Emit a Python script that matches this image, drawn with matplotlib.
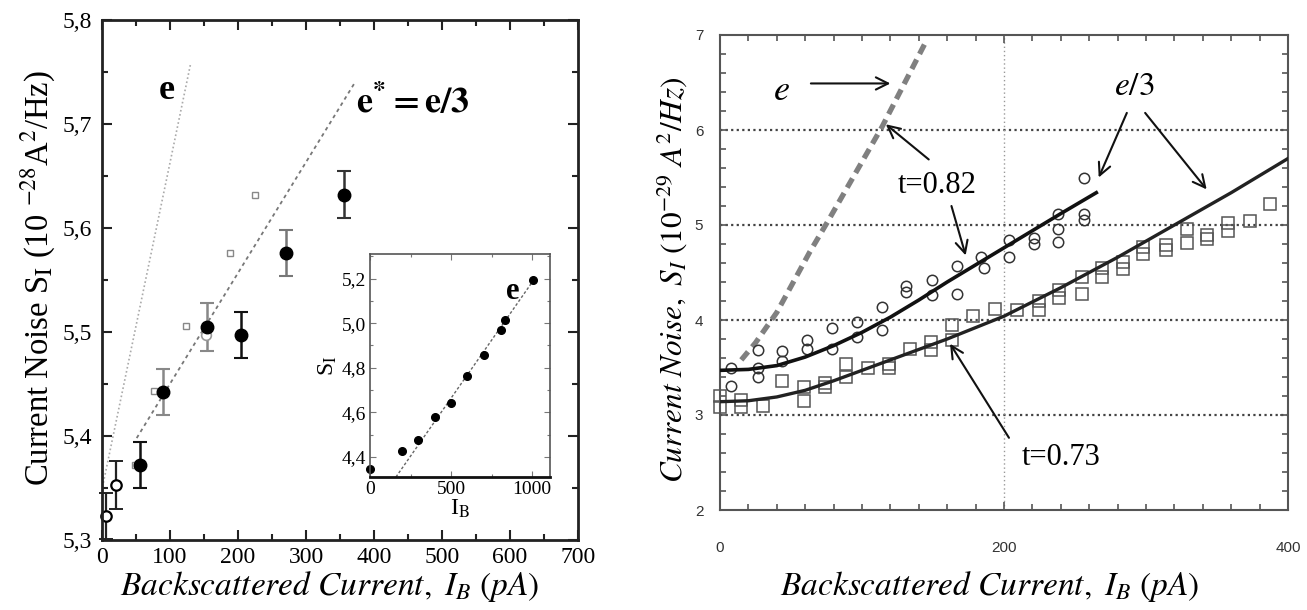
import matplotlib
matplotlib.use('Agg')
import matplotlib.pyplot as plt
from matplotlib.ticker import MultipleLocator, FuncFormatter, FixedLocator

plt.rcParams['font.family'] = ['Liberation Serif', 'DejaVu Serif']
plt.rcParams['mathtext.fontset'] = 'stix'

# ---------------- left panel data ----------------
filled_x = [56, 90, 155, 204, 270, 356]
filled_y = [5.372, 5.442, 5.505, 5.497, 5.576, 5.632]
filled_err = [0.022, 0.022, 0.023, 0.022, 0.0225, 0.0227]
filled_err_col = ['#111111', '#888888', '#888888', '#111111', '#777777', '#333333']
open_x = [6, 21]
open_y = [5.323, 5.353]
open_err = [0.022, 0.023]
sq_x = [49, 77, 123, 188, 225]
sq_y = [5.372, 5.443, 5.506, 5.576, 5.632]
gray_circ_x = [153]
gray_circ_y = [5.497]
e_line_x = [2, 130]
e_line_y = [5.355, 5.757]
e3_line_x = [51, 372]
e3_line_y = [5.398, 5.740]

# inset
inset_x = [0, 196, 298, 403, 500, 601, 704, 807, 835, 1006]
inset_y = [4.344, 4.426, 4.476, 4.579, 4.643, 4.764, 4.856, 4.969, 5.016, 5.193]
inset_line_x = [160, 1006]
inset_line_y = [4.31, 5.19]

# ---------------- right panel data ----------------
c82_x = [8, 8, 26.5, 26.5, 26.5, 43.6, 43.6, 61, 61, 78.8, 78.8, 96.8, 96.8,
         114, 114, 131, 131, 149.6, 149.6, 167, 167, 184, 186, 203.5, 203.5,
         221, 221, 238, 238, 238, 256, 256, 256]
c82_y = [3.50, 3.31, 3.68, 3.50, 3.40, 3.67, 3.57, 3.79, 3.70, 3.92, 3.70,
         3.98, 3.82, 4.14, 3.90, 4.36, 4.29, 4.42, 4.26, 4.57, 4.27, 4.66,
         4.55, 4.84, 4.66, 4.86, 4.80, 5.12, 4.96, 4.82, 5.50, 5.12, 5.05]
s73_x = [0, 0, 14.8, 14.8, 30, 44, 59.3, 59.3, 74, 74, 88.6, 88.6, 104,
         119, 119, 133.6, 148.4, 148.4, 163.7, 163.7, 178, 194, 209,
         224.6, 224.6, 238.6, 238.6, 255, 255, 269, 269, 284, 284, 298, 298,
         314, 314, 328.7, 328.7, 343, 343, 358, 358, 373, 387.6]
s73_y = [3.20, 3.08, 3.16, 3.08, 3.10, 3.36, 3.29, 3.15, 3.34, 3.29, 3.54,
         3.40, 3.50, 3.54, 3.49, 3.70, 3.77, 3.68, 3.95, 3.79, 4.04, 4.12,
         4.11, 4.20, 4.11, 4.32, 4.23, 4.45, 4.27, 4.55, 4.45, 4.61, 4.54,
         4.77, 4.70, 4.79, 4.74, 4.96, 4.81, 4.89, 4.85, 5.02, 4.94, 5.04, 5.22]
fit82_x = [0, 20, 40, 60, 80, 100, 120, 140, 160, 180, 200, 220, 240, 265]
fit82_y = [3.47, 3.48, 3.52, 3.61, 3.73, 3.87, 4.03, 4.21, 4.40, 4.58, 4.76, 4.94, 5.12, 5.34]
fit73_x = [0, 20, 40, 60, 80, 100, 120, 140, 160, 180, 200, 240, 280, 320, 360, 400]
fit73_y = [3.14, 3.15, 3.19, 3.26, 3.36, 3.47, 3.58, 3.69, 3.80, 3.92, 4.04, 4.34, 4.66, 5.00, 5.34, 5.70]
eline_x = [15, 25, 40, 63, 76, 114, 145]
eline_y = [3.58, 3.76, 4.08, 4.71, 5.04, 6.03, 6.93]

W, H = 1307, 610
fig = plt.figure(figsize=(W / 100, H / 100), dpi=100)


def rect(x0, y0, x1, y1):
    return [x0 / W, 1 - y1 / H, (x1 - x0) / W, (y1 - y0) / H]


comma = FuncFormatter(lambda v, p: f'{v:.1f}'.replace('.', ','))

# ================= LEFT PANEL =================
ax = fig.add_axes(rect(102, 20, 578, 540))
ax.set_xlim(0, 700)
ax.set_ylim(5.3, 5.8)
for s in ax.spines.values():
    s.set_linewidth(2.0)
    s.set_color('#222222')
ax.xaxis.set_major_locator(MultipleLocator(100))
ax.xaxis.set_minor_locator(MultipleLocator(50))
ax.yaxis.set_major_locator(MultipleLocator(0.1))
ax.yaxis.set_minor_locator(MultipleLocator(0.05))
ax.yaxis.set_major_formatter(comma)
ax.tick_params(which='both', direction='in', top=True, right=True, width=1.5, color='#222222')
ax.tick_params(which='major', length=7, labelsize=17, pad=7)
ax.tick_params(axis='x', which='major', pad=5)
ax.tick_params(which='minor', length=4)

ax.plot(e_line_x, e_line_y, linestyle=(0, (1, 1.5)), color='#aaaaaa', lw=1.2)
ax.plot(e3_line_x, e3_line_y, linestyle=(0, (2, 2)), color='#777777', lw=1.3)

for x, y, e, c in zip(filled_x, filled_y, filled_err, filled_err_col):
    ax.errorbar([x], [y], yerr=[e], fmt='none', ecolor=c, elinewidth=1.8, capsize=5, capthick=1.5)
for x, y, e in zip(open_x, open_y, open_err):
    ax.errorbar([x], [y], yerr=[e], fmt='none', ecolor='#222222', elinewidth=1.6, capsize=5, capthick=1.4,
                clip_on=False)
ax.plot(sq_x, sq_y, 's', mfc='white', mec='#888888', ms=5, mew=1.0)
ax.plot(gray_circ_x, gray_circ_y, 'o', mfc='white', mec='#999999', ms=7, mew=1.2)
ax.plot(filled_x, filled_y, 'o', color='black', ms=9)
ax.plot(open_x, open_y, 'o', mfc='white', mec='black', ms=7.5, mew=1.6, clip_on=False)

ax.text(95, 5.732, 'e', fontsize=26, fontweight='bold', ha='center', va='center')
ax.text(373, 5.72, r'$\mathbf{e^{*} = e/3}$', fontsize=26, ha='left', va='center')

fig.text(330 / W, 1 - 586 / H, r'$\it{Backscattered\ Current,\ I_{B}\ (pA)}$', fontsize=24,
         ha='center', va='center')
fig.text(38 / W, 1 - 278 / H, r'Current Noise S$_{\mathrm{I}}$ (10 $^{-28}$A$^{2}$/Hz)', fontsize=23.5,
         rotation=90, ha='center', va='center')

# ---- inset ----
ins = fig.add_axes(rect(370, 254, 550, 477))
ins.set_xlim(0, 1110)
ins.set_ylim(4.31, 5.31)
for s in ins.spines.values():
    s.set_linewidth(1.2)
    s.set_color('#555555')
ins.spines['bottom'].set_linewidth(2.0)
ins.spines['bottom'].set_color('#111111')
ins.xaxis.set_major_locator(FixedLocator([0, 500, 1000]))
ins.xaxis.set_minor_locator(MultipleLocator(250))
ins.yaxis.set_major_locator(MultipleLocator(0.2))
ins.yaxis.set_minor_locator(MultipleLocator(0.1))
ins.yaxis.set_major_formatter(comma)
ins.tick_params(which='both', direction='in', top=True, right=True, width=0.8, color='#777777')
ins.tick_params(which='major', length=4, labelsize=14, pad=3)
ins.tick_params(which='minor', length=2)
ins.plot(inset_line_x, inset_line_y, linestyle=(0, (2, 1.5)), color='#666666', lw=1.0)
ins.plot(inset_x, inset_y, 'o', color='black', ms=5.5, clip_on=False)
ins.text(881, 5.14, 'e', fontsize=22, fontweight='bold', ha='center', va='center')
ins.set_ylabel(r'S$_{\mathrm{I}}$', fontsize=17, labelpad=2)
ins.set_xlabel(r'I$_{\mathrm{B}}$', fontsize=17, labelpad=0)

# ================= RIGHT PANEL =================
ar = fig.add_axes(rect(720, 35, 1288, 510))
ar.set_xlim(0, 400)
ar.set_ylim(2, 7)
for s in ar.spines.values():
    s.set_linewidth(1.5)
    s.set_color('#555555')
ar.xaxis.set_major_locator(FixedLocator([0, 200, 400]))
ar.xaxis.set_minor_locator(MultipleLocator(20))
ar.yaxis.set_major_locator(MultipleLocator(1))
ar.yaxis.set_minor_locator(MultipleLocator(0.2))
ar.tick_params(which='both', direction='in', top=True, right=True, width=1.2, color='#555555')
ar.tick_params(which='major', length=6, labelsize=11, labelcolor='#333333')
ar.tick_params(which='minor', length=4)
ar.tick_params(axis='x', which='major', pad=22)
ar.tick_params(axis='y', which='major', pad=12)
for lab in ar.get_xticklabels() + ar.get_yticklabels():
    lab.set_fontfamily(['Liberation Sans', 'DejaVu Sans'])

for gy in [3, 4, 5, 6]:
    ar.axhline(gy, color='#444444', lw=1.6, linestyle=(0, (1, 1.5)), zorder=1)
ar.axvline(200, color='#999999', lw=1.0, linestyle=(0, (1, 2)), zorder=1)

ar.plot(eline_x, eline_y, color='#808080', lw=3.8, linestyle=(0, (2.0, 1.2)), zorder=2)
ar.plot(s73_x, s73_y, 's', mfc='none', mec='#555555', ms=8, mew=1.1, zorder=3, clip_on=False)
ar.plot(c82_x, c82_y, 'o', mfc='none', mec='#333333', ms=7.5, mew=1.1, zorder=3)
ar.plot(fit82_x, fit82_y, color='#111111', lw=2.6, zorder=4)
ar.plot(fit73_x, fit73_y, color='#222222', lw=2.4, zorder=4)

arrow = dict(arrowstyle='->', lw=1.5, color='#111111', mutation_scale=22, shrinkA=0, shrinkB=0)
ar.text(43, 6.41, r'$\it{e}$', fontsize=26, ha='center', va='center')
ar.annotate('', xy=(120, 6.49), xytext=(64, 6.49), arrowprops=arrow)
ar.text(153, 5.42, 't=0.82', fontsize=22, ha='center', va='center')
ar.annotate('', xy=(116.8, 6.06), xytext=(147, 5.69), arrowprops=arrow)
ar.annotate('', xy=(173, 4.68), xytext=(163, 5.20), arrowprops=arrow)
ar.text(292, 6.46, r'$\it{e/3}$', fontsize=24, ha='center', va='center')
ar.annotate('', xy=(266.7, 5.5), xytext=(286.5, 6.18), arrowprops=arrow)
ar.annotate('', xy=(342.7, 5.375), xytext=(299.4, 6.18), arrowprops=arrow)
ar.text(240, 2.55, 't=0.73', fontsize=22, ha='center', va='center')
ar.annotate('', xy=(162, 3.75), xytext=(203.5, 2.76), arrowprops=arrow)

fig.text(990 / W, 1 - 586 / H, r'$\it{Backscattered\ Current,\ I_{B}\ (pA)}$', fontsize=24,
         ha='center', va='center')
fig.text(672 / W, 1 - 280 / H, r'$\it{Current\ Noise,\ S_{I}\ (10^{-29}\ A^{2}/Hz)}$', fontsize=22.5,
         rotation=90, ha='center', va='center')

fig.savefig('out.png', dpi=100)
